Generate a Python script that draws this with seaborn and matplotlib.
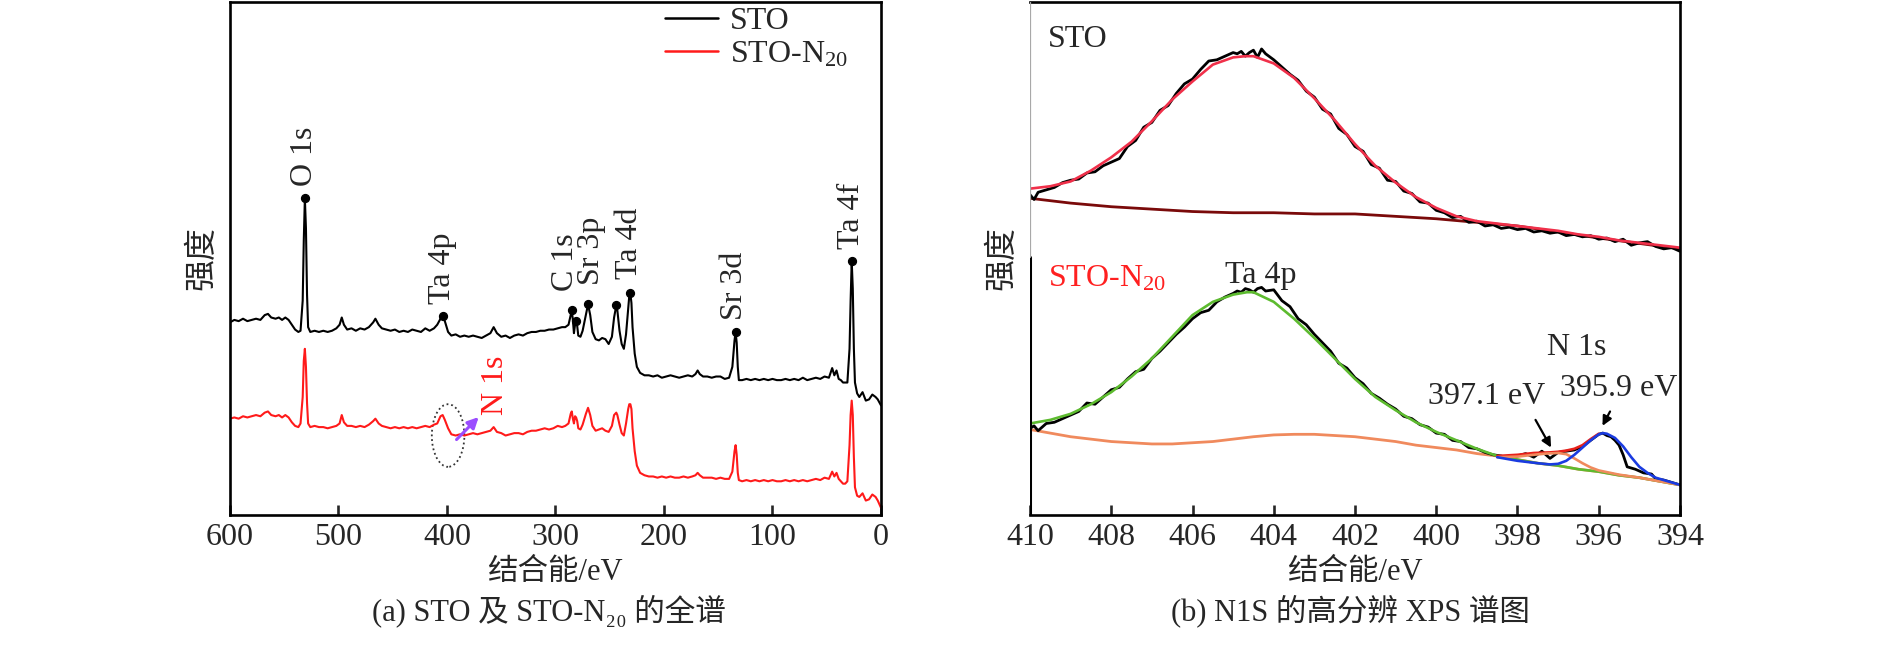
import numpy as np
import pandas as pd
import matplotlib
matplotlib.use("Agg")
import matplotlib.pyplot as plt
from matplotlib.patches import Ellipse
import seaborn as sns

# ---------------- (a) survey spectra: binding energy (eV) / intensity (a.u.) ----------------
survey_ev = [600, 596, 592, 588, 584, 580, 576, 572, 568, 565, 562, 558, 555, 552, 549, 546, 543, 540, 537, 535,
             533, 532, 531, 530, 529, 528, 526, 522, 518, 514, 510, 506, 502, 499, 497, 495, 492, 488, 484, 480,
             476, 472, 468, 466, 463, 460, 456, 452, 448, 444, 440, 436, 432, 428, 424, 420, 416, 412, 409, 406,
             404, 402, 399, 396, 392, 388, 384, 380, 376, 372, 368, 364, 360, 357, 354, 350, 346, 342, 338, 334,
             330, 326, 322, 318, 314, 310, 306, 302, 298, 294, 291, 288, 286, 285, 284, 283, 282, 281, 280, 279,
             277, 275, 272, 270, 268, 266, 263, 260, 257, 254, 251, 248, 246, 244, 243, 241, 239, 237, 235, 233,
             232, 231, 230, 229, 227, 225, 222, 218, 214, 210, 206, 202, 198, 194, 190, 186, 182, 178, 174, 171,
             169, 167, 164, 160, 156, 152, 148, 144, 140, 137, 135, 134, 133, 132, 131, 128, 124, 120, 116, 112,
             108, 104, 100, 96, 92, 88, 84, 80, 76, 72, 68, 64, 60, 56, 52, 48, 45, 43, 41, 39,
             37, 35, 33, 31, 29, 28, 27, 26, 25, 24, 22, 20, 17, 14, 11, 8, 5, 3, 0]

sto_survey = [160, 162, 161, 163, 161, 162, 163, 162, 166, 167, 164, 163, 164, 162, 164, 162, 158, 154, 152, 153,
              178, 228, 263, 238, 183, 156, 152, 153, 152, 153, 152, 153, 155, 158, 164, 158, 154, 155, 153, 155,
              154, 156, 160, 163, 158, 155, 154, 153, 154, 152, 153, 152, 154, 153, 152, 155, 153, 155, 158, 163,
              165, 161, 152, 149, 150, 148, 149, 148, 149, 148, 147, 149, 151, 156, 151, 148, 149, 147, 149, 150,
              149, 151, 152, 152, 153, 153, 154, 154, 155, 156, 156, 158, 166, 170, 162, 151, 158, 161, 157, 149,
              148, 153, 166, 175, 166, 152, 146, 145, 147, 146, 142, 148, 164, 174, 170, 153, 142, 138, 150, 172,
              182, 184, 176, 156, 134, 123, 118, 116, 116, 115, 116, 114, 115, 116, 115, 114, 115, 116, 115, 117,
              120, 117, 115, 115, 114, 115, 115, 113, 114, 123, 145, 152, 143, 123, 112, 112, 113, 112, 113, 112,
              113, 112, 113, 112, 112, 113, 112, 113, 112, 114, 112, 113, 114, 113, 115, 114, 122, 116, 120, 113,
              112, 110, 110, 110, 138, 178, 211, 188, 138, 110, 101, 98, 102, 95, 96, 100, 98, 96, 91]

ston_survey = [80, 81, 80, 82, 81, 82, 83, 82, 85, 86, 83, 82, 83, 81, 83, 81, 77, 74, 73, 76,
               98, 128, 138, 123, 93, 76, 73, 74, 73, 73, 72, 73, 74, 76, 83, 77, 74, 74, 73, 74,
               73, 75, 78, 80, 76, 74, 73, 72, 73, 72, 73, 72, 73, 72, 73, 74, 73, 75, 76, 82,
               83, 79, 72, 67, 66, 67, 66, 67, 68, 67, 68, 69, 70, 73, 69, 68, 66, 67, 68, 68,
               67, 69, 70, 70, 71, 72, 71, 72, 74, 73, 74, 76, 84, 86, 80, 76, 82, 81, 78, 72,
               71, 75, 84, 89, 83, 74, 70, 71, 72, 70, 69, 74, 83, 85, 83, 75, 68, 66, 76, 88,
               92, 92, 88, 72, 53, 41, 35, 33, 32, 32, 31, 32, 31, 32, 31, 31, 32, 31, 32, 33,
               35, 33, 31, 31, 31, 30, 31, 30, 30, 36, 53, 58, 50, 35, 29, 28, 29, 28, 29, 28,
               29, 28, 29, 28, 28, 29, 28, 29, 28, 29, 28, 29, 30, 29, 31, 30, 36, 32, 35, 30,
               28, 26, 26, 28, 58, 83, 95, 83, 48, 23, 16, 15, 18, 12, 13, 17, 15, 12, 6]

peak_ev = [531, 404, 285, 281, 270, 244, 231, 134, 27]
peak_int = [263, 165, 170, 161, 175, 174, 184, 152, 211]
peak_names = ["O 1s", "Ta 4p", "C 1s", "Sr 3p", "Ta 4d", "Sr 3d", "Ta 4f"]
label_ev = [531, 404, 291, 267, 232, 135, 27]
label_int = [273, 175, 186, 191, 196, 162, 221]

# ---------------- (b) N 1s high resolution, (eV, intensity) pairs ----------------
sto_raw = [(410, 266), (409.9, 262), (409.8, 268), (409.6, 270), (409.4, 272), (409.2, 276), (409, 278),
           (408.8, 279), (408.6, 284), (408.4, 285), (408.2, 290), (408, 293), (407.8, 296), (407.6, 306),
           (407.4, 311), (407.2, 322), (407, 326), (406.8, 336), (406.6, 340), (406.4, 350), (406.2, 358),
           (406, 362), (405.8, 370), (405.6, 377), (405.4, 378), (405.2, 381), (405, 384), (404.9, 383),
           (404.8, 385), (404.7, 381), (404.6, 384), (404.5, 386), (404.4, 380), (404.3, 387), (404.2, 383),
           (404, 378), (403.8, 372), (403.6, 366), (403.4, 361), (403.2, 352), (403, 347), (402.8, 337),
           (402.6, 333), (402.4, 321), (402.2, 316), (402, 306), (401.8, 302), (401.6, 291), (401.4, 288),
           (401.2, 278), (401, 277), (400.8, 269), (400.6, 267), (400.4, 260), (400.2, 259), (400, 253),
           (399.8, 251), (399.6, 247), (399.4, 248), (399.2, 243), (399, 244), (398.8, 240), (398.6, 241),
           (398.4, 238), (398.2, 239), (398, 237), (397.8, 238), (397.6, 235), (397.4, 236), (397.2, 234),
           (397, 235), (396.8, 232), (396.6, 233), (396.4, 231), (396.2, 232), (396, 229), (395.8, 230),
           (395.6, 227), (395.4, 229), (395.2, 224), (395, 226), (394.8, 227), (394.6, 223), (394.4, 221),
           (394.2, 222), (394, 219)]

sto_fit = [(410, 271), (409.5, 273), (409, 277), (408.5, 286), (408, 297), (407.5, 310), (407, 327),
           (406.5, 345), (406, 360), (405.5, 374), (405, 380), (404.7, 381), (404.5, 381), (404, 375),
           (403.5, 363), (403, 346), (402.5, 328), (402, 308), (401.5, 290), (401, 276), (400.5, 264),
           (400, 255), (399.5, 248), (399, 244), (398.5, 242), (398, 240), (397.5, 238), (397, 236),
           (396.5, 233), (396, 231), (395.5, 228), (395, 226), (394.5, 224), (394, 222)]

sto_bg = [(410, 263), (409, 259), (408, 256), (407, 254), (406, 252), (405, 251), (404, 251), (403, 250),
          (402, 250), (401, 248), (400, 246), (399, 243), (398, 240), (397, 235), (396, 230), (395, 225.5),
          (394, 221)]

ston_raw = [(410, 72), (409.9, 74), (409.8, 70), (409.6, 76), (409.4, 77), (409.2, 80), (409, 83), (408.8, 86),
            (408.6, 93), (408.4, 92), (408.2, 98), (408, 104), (407.8, 106), (407.6, 113), (407.4, 119),
            (407.2, 121), (407, 130), (406.8, 136), (406.6, 143), (406.4, 150), (406.2, 156), (406, 163),
            (405.8, 168), (405.6, 170), (405.4, 177), (405.2, 181), (405, 184), (404.9, 186), (404.8, 185),
            (404.7, 188), (404.6, 187), (404.5, 185), (404.4, 188), (404.3, 189), (404.2, 186), (404, 187),
            (403.8, 178), (403.6, 173), (403.4, 163), (403.2, 158), (403, 150), (402.8, 143), (402.6, 136),
            (402.4, 126), (402.2, 122), (402, 114), (401.8, 109), (401.6, 101), (401.4, 97), (401.2, 92),
            (401, 88), (400.8, 82), (400.6, 80), (400.4, 75), (400.2, 73), (400, 68), (399.8, 67), (399.6, 62),
            (399.4, 61), (399.2, 56), (399, 55), (398.8, 52), (398.6, 50), (398.4, 49), (398.2, 47), (398, 49),
            (397.8, 51), (397.6, 48), (397.4, 53), (397.2, 47), (397, 52), (396.8, 53), (396.6, 54),
            (396.4, 57), (396.2, 62), (396, 67), (395.9, 68), (395.8, 66), (395.7, 65), (395.6, 62),
            (395.5, 58), (395.4, 50), (395.3, 40), (395.1, 38), (394.9, 35), (394.7, 34), (394.6, 30),
            (394.4, 29), (394.2, 27), (394, 25)]

ston_ta4p_fit = [(410, 76), (409.5, 79), (409, 84), (408.5, 92), (408, 102), (407.5, 115), (407, 130),
                 (406.5, 148), (406, 166), (405.5, 177), (405, 183), (404.66, 185), (404.5, 185), (404, 177),
                 (403.5, 163), (403, 147), (402.5, 130), (402, 113), (401.5, 98), (401, 87), (400.5, 77),
                 (400, 69), (399.5, 62), (399, 55), (398.5, 49), (398, 46), (397.5, 43), (397, 41),
                 (396.5, 38), (396, 36), (395.5, 33), (395, 31), (394.5, 28), (394, 25)]

ston_bg = [(410, 71), (409.5, 68), (409, 65), (408.5, 63), (408, 61), (407.5, 60), (407, 59), (406.5, 59),
           (406, 60), (405.5, 61), (405, 63), (404.5, 65), (404, 66.5), (403.5, 67), (403, 67), (402.5, 66),
           (402, 65), (401.5, 63), (401, 61), (400.5, 58), (400, 56), (399.5, 54), (399, 51), (398.5, 49),
           (398, 46), (397.5, 43), (397, 41), (396.5, 38), (396, 36), (395.5, 33), (395, 31), (394.5, 28),
           (394, 25)]

n3959_fit = [(398.5, 48), (398, 45), (397.5, 43), (397.2, 42), (397, 42.5), (396.8, 45), (396.6, 50),
             (396.4, 56), (396.2, 62), (396, 67), (395.9, 68), (395.8, 67.5), (395.6, 64), (395.4, 57),
             (395.2, 48), (395, 40), (394.8, 35), (394.6, 31), (394.4, 29), (394.2, 27), (394, 25)]

n3971_fit = [(398.5, 48), (398, 48.5), (397.6, 50), (397.3, 51), (397, 51.5), (396.8, 50.5), (396.6, 47),
             (396.4, 43), (396.2, 39.5), (396, 37), (395.5, 33.5), (395, 31), (394.5, 28), (394, 25)]

n_sum_fit = [(398.5, 49), (398, 50), (397.6, 51.5), (397.2, 52), (397, 52.5), (396.8, 53.5), (396.6, 55),
             (396.4, 58), (396.2, 63), (396, 67.5)]

# ---------------- style ----------------
sns.set_style("ticks")
fams = ["Liberation Serif", "DejaVu Serif", "Noto Sans CJK SC"]
plt.rcParams["font.family"] = fams
plt.rcParams["mathtext.fontset"] = "custom"
plt.rcParams["mathtext.rm"] = "Liberation Serif"
plt.rcParams["axes.unicode_minus"] = False

W, H = 1890, 654
fig = plt.figure(figsize=(W / 100, H / 100), dpi=100)
ax1 = fig.add_axes([230 / W, (H - 515) / H, 651 / W, 513 / H])
ax2 = fig.add_axes([1030 / W, (H - 515) / H, 650 / W, 513 / H])

fs = 23
cap_fs = 22


def draw(ax, pts, color, lw):
    df = pd.DataFrame(pts, columns=["ev", "inten"])
    sns.lineplot(data=df, x="ev", y="inten", ax=ax, color=color, lw=lw, sort=False, estimator=None)


for ax in (ax1, ax2):
    for sp in ax.spines.values():
        sp.set_linewidth(1.9)
        sp.set_color("black")
    ax.tick_params(axis="x", direction="in", length=7, width=1.9, labelsize=fs, pad=6)
    ax.tick_params(axis="y", left=False, labelleft=False)

# ---- panel (a)
sns.lineplot(x=survey_ev, y=sto_survey, ax=ax1, color="black", lw=1.5, sort=False,
             estimator=None, label="STO")
sns.lineplot(x=survey_ev, y=ston_survey, ax=ax1, color="#ff1a1a", lw=1.5, sort=False,
             estimator=None, label="STO-N$\\mathregular{_{20}}$")
ax1.set_xlim(600, 0)
ax1.set_xticks([600, 500, 400, 300, 200, 100, 0])
ax1.set_ylim(0, 426)
ax1.set_xlabel("")
ax1.set_ylabel("")

ax1.scatter(peak_ev, peak_int, s=32, color="black", zorder=5)
for name, x, y in zip(peak_names, label_ev, label_int):
    ax1.text(x, y, name, rotation=90, ha="center", va="bottom", fontsize=fs)

ax1.add_patch(Ellipse((399, 66), 30, 52, fill=False, ls=(0, (1, 1.6)), lw=1.3, ec="#333333"))
ax1.annotate("", xy=(369, 83), xytext=(393, 61),
             arrowprops=dict(arrowstyle="-|>", color="#9b4dff", lw=2.2, mutation_scale=16))
ax1.text(355, 108, "N 1s", color="#ff1a1a", rotation=90, ha="center", va="center", fontsize=fs)

leg = ax1.legend(loc="upper left", bbox_to_anchor=(0.668, 0.99), frameon=False, fontsize=fs,
                 handlelength=1.65, handletextpad=0.4, labelspacing=0.1, borderpad=0, borderaxespad=0)
for line in leg.get_lines():
    line.set_linewidth(1.8)

# ---- panel (b)
draw(ax2, sto_bg, "#7a0a0a", 2.0)
draw(ax2, sto_raw, "black", 2.0)
draw(ax2, sto_fit, "#f0304a", 1.9)
draw(ax2, ston_bg, "#f08a5d", 2.0)
draw(ax2, ston_raw, "black", 2.0)
draw(ax2, ston_ta4p_fit, "#5dbb2f", 1.9)
draw(ax2, n_sum_fit, "#e8201a", 1.9)
draw(ax2, n3971_fit, "#f08a5d", 1.9)
draw(ax2, n3959_fit, "#1a3be0", 1.9)

ax2.set_xlim(410, 394)
ax2.set_xticks([410, 408, 406, 404, 402, 400, 398, 396, 394])
ax2.set_ylim(0, 426)
ax2.set_xlabel("")
ax2.set_ylabel("")

# left spine: grey in the upper part, black below
ax2.spines["left"].set_visible(False)
ax2.axvline(410, ymin=0, ymax=0.503, color="black", lw=2.2, zorder=6)
ax2.axvline(410, ymin=0.503, ymax=1, color="#a8a8a8", lw=1.6, zorder=6)

ax2.text(409.56, 395, "STO", fontsize=fs, ha="left", va="center")
ax2.text(409.56, 196, "STO-N$\\mathregular{_{20}}$", fontsize=fs, ha="left", va="center", color="#ff2020")
ax2.text(404.33, 199, "Ta 4p", fontsize=fs, ha="center", va="center")
ax2.text(396.55, 139, "N 1s", fontsize=fs, ha="center", va="center")
ax2.text(398.77, 98, "397.1 eV", fontsize=fs, ha="center", va="center")
ax2.text(395.52, 105, "395.9 eV", fontsize=fs, ha="center", va="center")
ax2.annotate("", xy=(397.14, 54), xytext=(397.59, 81),
             arrowprops=dict(arrowstyle="-|>", color="black", lw=1.6, mutation_scale=14))
ax2.annotate("", xy=(395.94, 72), xytext=(395.69, 88),
             arrowprops=dict(arrowstyle="-|>", color="black", lw=1.6, mutation_scale=14))

# axis titles and captions
for cx in (555, 1355):
    fig.text(cx / W, 1 - 572 / H, "结合能/eV", ha="center", va="center", fontsize=cap_fs, family=fams)
for cx in (202, 1002):
    fig.text(cx / W, 1 - 258 / H, "强度", ha="center", va="center", rotation=90, fontsize=fs, family=fams)
fig.text(549 / W, 1 - 611 / H, "(a) STO 及 STO-N₂₀ 的全谱", ha="center", va="center",
         fontsize=cap_fs, family=fams)
fig.text(1350 / W, 1 - 611 / H, "(b) N1S 的高分辨 XPS 谱图", ha="center", va="center",
         fontsize=cap_fs, family=fams)

fig.savefig("out.png", dpi=100)
